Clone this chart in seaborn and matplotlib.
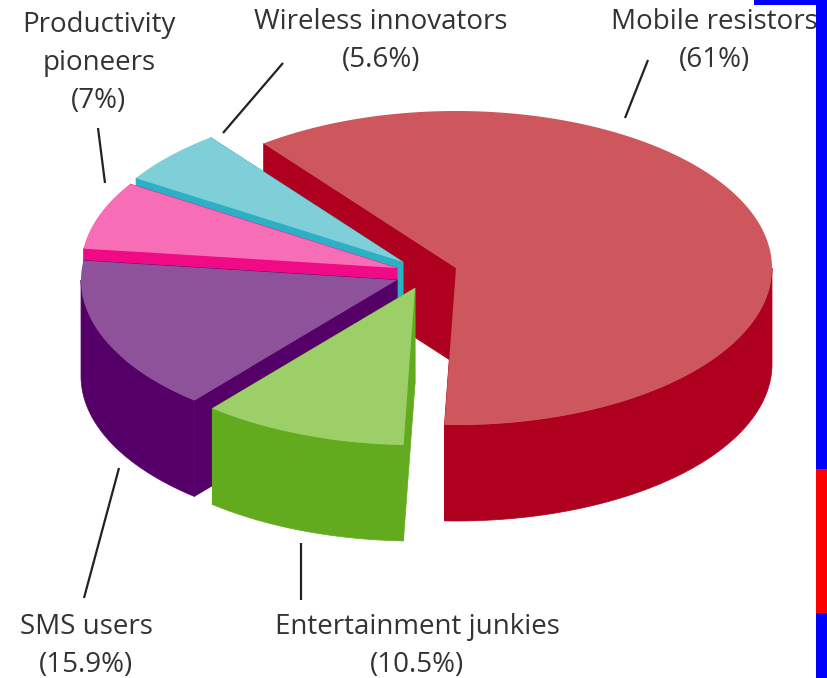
import numpy as np
import matplotlib
matplotlib.use("Agg")
import matplotlib.pyplot as plt
from matplotlib.patches import Rectangle
import seaborn as sns

# Segments in clockwise drawing order starting from the large slice
segments = ["Mobile resistors", "Entertainment junkies", "SMS users",
            "Productivity\npioneers", "Wireless innovators"]
shares = [61, 10.5, 15.9, 7, 5.6]

top_colors = ["#CE575E", "#9DCF68", "#8E529B", "#F76DB6", "#7FCFD8"]
side_colors = ["#AF0020", "#62AB1F", "#550068", "#F00A85", "#2DB0C4"]

# Exploded apex of each slice in canvas pixels
apex_x = [456, 415, 397, 397, 403]
apex_y = [268, 288, 280, 268, 262]

# Label centres and leader lines per segment
label_x = [714, 417, 86, 99, 381]
label_y = [41, 646, 646, 63, 41]
leaders = [((648, 60), (625, 118)), ((301, 543), (301, 600)),
           ((119, 468), (84, 598)), ((98, 128), (105, 183)),
           ((283, 63), (223, 133))]

RX, RY, DEPTH = 316, 157, 96
START_DEG = 127.5
PAINT_ORDER = [0, 4, 3, 2, 1]

sns.set_theme(style="white")
plt.rcParams["font.family"] = ["Open Sans", "DejaVu Sans"]

fig = plt.figure(figsize=(8.27, 6.78), dpi=100, facecolor="white")
ax = fig.add_axes([0, 0, 1, 1])
ax.set_xlim(0, 827)
ax.set_ylim(678, 0)
ax.axis("off")

tops = sns.color_palette(top_colors)
sides = sns.color_palette(side_colors)

# Slice boundaries come straight from the shares
ends = START_DEG - np.cumsum(shares) * 3.6
starts = np.concatenate([[START_DEG], ends[:-1]])


def ellipse_arc(i, first_deg, last_deg):
    angles = np.radians(np.linspace(first_deg, last_deg, 240))
    return (apex_x[i] + RX * np.cos(angles), apex_y[i] - RY * np.sin(angles))


z = 2
for i in PAINT_ORDER:
    arc_x, arc_y = ellipse_arc(i, starts[i], ends[i])
    cx, cy = apex_x[i], apex_y[i]

    # Only the front half of the rim faces the viewer
    rim_first, rim_last = min(starts[i], 0), max(ends[i], -180)
    if rim_first > rim_last:
        rim_x, rim_y = ellipse_arc(i, rim_first, rim_last)
        ax.fill(np.r_[rim_x, rim_x[::-1]], np.r_[rim_y, rim_y[::-1] + DEPTH],
                color=sides[i], lw=0.5, zorder=z)

    # The two cut faces of the slice
    for ex, ey in [(arc_x[0], arc_y[0]), (arc_x[-1], arc_y[-1])]:
        ax.fill([cx, ex, ex, cx], [cy, ey, ey + DEPTH, cy + DEPTH],
                color=sides[i], lw=0.5, zorder=z)
    z += 1
    ax.fill(np.r_[cx, arc_x], np.r_[cy, arc_y], color=tops[i], lw=0, zorder=z)
    z += 1

for name, share, x, y, line in zip(segments, shares, label_x, label_y, leaders):
    ax.text(x, y, f"{name}\n({share:g}%)", ha="center", va="center",
            fontsize=20, color="#333333", linespacing=1.46, zorder=z)
    ax.plot(*zip(*line), color="#222222", lw=1.6, solid_capstyle="butt", zorder=z)

# Coloured strips along the right and top border
for (x, y, w, h, c) in [(816, 0, 11, 678, "#0000FF"), (754, 0, 73, 5, "#0000FF"),
                        (816, 469, 11, 144, "#FF0000")]:
    ax.add_patch(Rectangle((x, y), w, h, color=c, lw=0, zorder=z + 1))

fig.savefig("out.png", dpi=100, facecolor="white")
